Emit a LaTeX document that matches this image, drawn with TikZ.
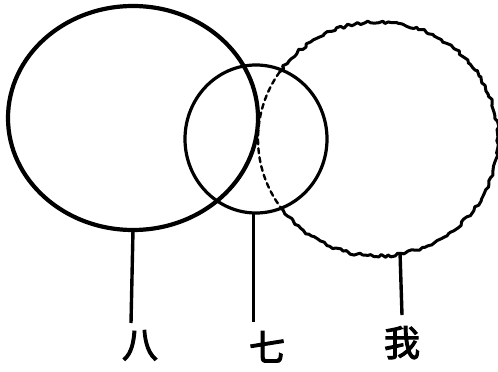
\documentclass[tikz,border=0pt]{standalone}
\usepackage{fontspec}
\newfontfamily\cjk{Noto Sans CJK SC}[FakeBold=3]
\usetikzlibrary{shapes.geometric,decorations.pathmorphing}
\tikzset{
  ring/.style={draw=black, ellipse, inner sep=0pt, outer sep=0pt},
  rough/.style={draw=black, line width=3pt, line join=round, line cap=round,
    decorate, decoration={random steps, segment length=3.5pt, amplitude=1.5pt}},
  hidden/.style={draw=black, line width=2.4pt, dash pattern=on 5pt off 4pt, line cap=round},
  stem/.style={draw=black, line width=3.4pt},
  lab/.style={font=\cjk\fontsize{36}{36}\selectfont, inner sep=0pt, anchor=north}
}
\begin{document}
\begin{tikzpicture}[x=1pt,y=-1pt]
\pgfmathsetseed{7}
\useasboundingbox (0,0) rectangle (498,372);
% left big ellipse
\node[ring, line width=4.2pt, minimum width=250pt, minimum height=224pt] (ba) at (133,118) {};
% centre circle
\node[ring, line width=3.2pt, minimum width=142pt, minimum height=148pt] (qi) at (256,139) {};
% right rough circle: solid rough outside, dashed inside the centre circle
\path[rough] (378,139) ++(216:120pt and 117pt) arc[start angle=216, end angle=505, x radius=120pt, y radius=117pt];
\path[hidden] (378,139) ++(145:120pt and 117pt) arc[start angle=145, end angle=216, x radius=120pt, y radius=117pt];
\coordinate (wo) at (400,252);
% labels
\node[lab] (lba) at (140,330) {八};
\node[lab] (lqi) at (267,331) {七};
\node[lab] (lwo) at (402,326) {我};
% stems
\draw[stem] (ba.south) -- ([xshift=-9pt,yshift=7pt]lba.north);
\draw[stem, line width=3pt] (qi.south) ++(-3pt,0) -- ([xshift=-14pt,yshift=9pt]lqi.north);
\draw[stem] (wo) -- ([yshift=11pt]lwo.north);
\end{tikzpicture}
\end{document}
